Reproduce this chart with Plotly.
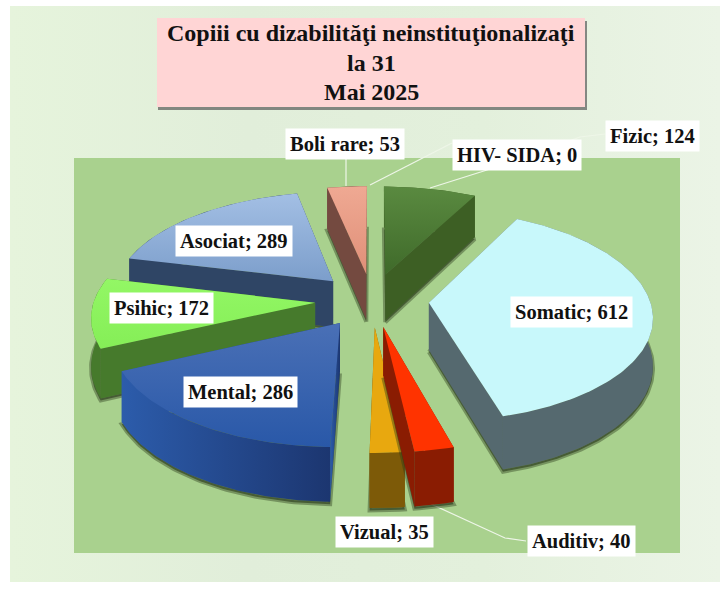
import math
import plotly.graph_objects as go

categories = ["Fizic", "Somatic", "Auditiv", "Vizual", "Mental", "Psihic", "Asociat", "Boli rare", "HIV- SIDA"]
values = [124, 612, 40, 35, 286, 172, 289, 53, 0]

top_colors = {
    "Fizic": ["#5a8a40", "#3f6a2a"], "Somatic": ["#c8f8fb", "#c8f8fb"], "Auditiv": ["#ff3300", "#ff3300"],
    "Vizual": ["#e8a80f", "#e8a80f"], "Mental": ["#4a70b6", "#2958a8"], "Psihic": ["#93f765", "#85ee57"],
    "Asociat": ["#a3bfe4", "#7c9ecb"], "Boli rare": ["#efa993", "#e08f78"],
}
wall_colors = {
    "Fizic": ["#3d5f24", "#3d5f24"], "Somatic": ["#55696f", "#55696f"], "Auditiv": ["#8a1c02", "#8a1c02"],
    "Vizual": ["#7d5a08", "#7d5a08"], "Mental": ["#2c5cab", "#1c3670"], "Psihic": ["#467a2c", "#467a2c"],
    "Asociat": ["#2f4565", "#2f4565"], "Boli rare": ["#744a40", "#744a40"],
}
draw_order = ["Boli rare", "Fizic", "Asociat", "Psihic", "Somatic", "Mental", "Vizual", "Auditiv"]
label_centers = {
    "Boli rare": (345, 144), "HIV- SIDA": (517, 155), "Fizic": (652, 136), "Asociat": (234, 241),
    "Psihic": (161, 308), "Mental": (240, 392), "Somatic": (571, 312), "Vizual": (384, 532), "Auditiv": (581, 541),
}
leaders = [
    [(346, 158), (346, 186)],
    [(370, 185), (452, 143)],
    [(430, 188), (487, 170), (580, 137), (605, 134)],
    [(431, 504), (505, 538), (526, 541)],
]
CX, CY, D, K, R, PULL, H = 372, 300, 1900, 0.47, 221, 57, 47
SERIF = "Liberation Serif"


def project(x, y, z=0.0):
    s = D / (D + y)
    return CX + x * s, CY - y * K * s + z * s


fig = go.Figure()


def poly(points, fill=None, gradient=None, direction="vertical", line=None, width=0):
    xs = [p[0] for p in points] + [points[0][0]]
    ys = [p[1] for p in points] + [points[0][1]]
    t = dict(x=xs, y=ys, mode="lines", fill="toself", hoverinfo="skip", showlegend=False,
             line=dict(width=width, color=line or "rgba(0,0,0,0)"))
    if gradient:
        stops = gradient if direction == "horizontal" else gradient[::-1]
        n = len(stops) - 1
        t["fillgradient"] = dict(type=direction, colorscale=[[i / n, c] for i, c in enumerate(stops)])
    else:
        t["fillcolor"] = fill
    fig.add_trace(go.Scatter(**t))


# page and panel
poly([(10, 6), (720, 6), (720, 582), (10, 582)], gradient=["#e6f4dc", "#e1eeda", "#e3f0dc", "#ebf4e6"],
     direction="horizontal")
poly([(74, 158), (680, 158), (680, 553), (74, 553)], fill="#a9d18e")

# leader lines
for seg in leaders:
    fig.add_trace(go.Scatter(x=[p[0] for p in seg], y=[p[1] for p in seg], mode="lines", hoverinfo="skip",
                             showlegend=False, line=dict(color="#eef6e8", width=1.2)))

# slices
total = sum(values)
angles = {}
acc = 0.0
for c, v in zip(categories, values):
    angles[c] = (acc / total * 360, (acc + v) / total * 360)
    acc += v

for name in draw_order:
    a0, a1 = angles[name]
    mid = math.radians((a0 + a1) / 2)
    ox, oy = PULL * math.sin(mid), PULL * math.cos(mid)
    n = max(2, int(a1 - a0))
    rim = []
    for i in range(n + 1):
        t = math.radians(a0 + (a1 - a0) * i / n)
        rim.append((ox + R * math.sin(t), oy + R * math.cos(t)))
    apex = (ox, oy)
    pr = lambda pts, z: [project(p[0], p[1], z) for p in pts]
    # soft shadow around the bottom outline
    poly(pr([apex] + rim, H + 2), fill="rgba(40,55,25,0.6)", line="rgba(40,55,25,0.4)", width=4)
    walls = [[apex, rim[0]], [apex, rim[-1]], rim]
    walls.sort(key=lambda w: -sum(p[1] for p in w) / len(w))
    for w in walls:
        poly(pr(w, 0) + pr(w[::-1], H), gradient=wall_colors[name], direction="horizontal")
    poly(pr([apex] + rim, 0), gradient=top_colors[name])

# title box
poly([(158, 21), (587, 21), (587, 110), (158, 110)], fill="rgba(90,90,90,0.7)")
poly([(157, 18), (585, 18), (585, 107), (157, 107)], fill="#ffd5d5")
for text, y in [("Copiii cu dizabilităţi neinstituţionalizaţi", 33), ("la 31", 63), ("Mai 2025", 92)]:
    fig.add_annotation(x=371, y=y, text=f"<b>{text}</b>", showarrow=False, xref="x", yref="y",
                       font=dict(family=SERIF, size=24, color="#111111"))

# data labels
for c, v in zip(categories, values):
    lx, ly = label_centers[c]
    fig.add_annotation(x=lx, y=ly, text=f"<b>{c}; {v}</b>", showarrow=False, xref="x", yref="y",
                       bgcolor="white", borderpad=4,
                       font=dict(family=SERIF, size=20.5, color="#111111"))

fig.update_layout(
    width=720, height=597, margin=dict(l=0, r=0, t=0, b=0), paper_bgcolor="white", plot_bgcolor="white",
    xaxis=dict(range=[0, 720], visible=False, fixedrange=True),
    yaxis=dict(range=[597, 0], visible=False, fixedrange=True),
    showlegend=False,
)
fig.write_html("out.html", config=dict(displayModeBar=False),
               post_script="document.body.style.margin='0';document.documentElement.style.overflow='hidden';")
